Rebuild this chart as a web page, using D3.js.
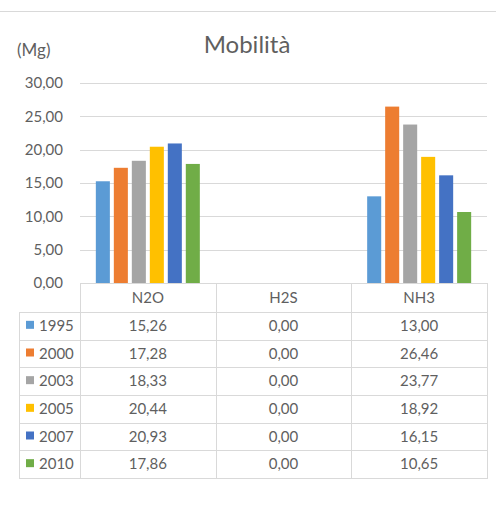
<!DOCTYPE html>
<html><head><meta charset="utf-8">
<script src="https://cdn.jsdelivr.net/npm/d3@7"></script>
<style>
html,body{margin:0;padding:0;background:#fff;}
svg{display:block;font-family:Lato,"Open Sans",sans-serif;}
</style></head>
<body>
<svg id="c" width="496" height="516"></svg>
<script>
const categories = ["N2O", "H2S", "NH3"];
const years = ["1995", "2000", "2003", "2005", "2007", "2010"];
const v1995 = [15.26, 0.00, 13.00];
const v2000 = [17.28, 0.00, 26.46];
const v2003 = [18.33, 0.00, 23.77];
const v2005 = [20.44, 0.00, 18.92];
const v2007 = [20.93, 0.00, 16.15];
const v2010 = [17.86, 0.00, 10.65];
const yTicks = [0, 5, 10, 15, 20, 25, 30];
const colors = ["#5B9BD5", "#ED7D31", "#A5A5A5", "#FFC000", "#4472C4", "#70AD47"];
const chartTitle = "Mobilità";
const unit = "(Mg)";

const series = [v1995, v2000, v2003, v2005, v2007, v2010];

const loc = d3.formatLocale({decimal: ",", thousands: ".", grouping: [3], currency: ["€", ""]});
const fmt = loc.format(".2f");

const svg = d3.select("#c");
const W = 496, H = 516;
const pL = 80, pR = 487, pT = 83, pB = 283;
const textCol = "#5f5f5f", gridCol = "#d9d9d9";

svg.append("rect").attr("width", W).attr("height", H).attr("fill", "#fff");
svg.append("line").attr("x1", 0).attr("x2", W).attr("y1", 11.5).attr("y2", 11.5)
  .attr("stroke", "#d9d9d9").attr("stroke-width", 1);

const y = d3.scaleLinear().domain([0, 30]).range([pB, pT]);
const x0 = d3.scaleBand().domain(categories).range([pL, pR]).padding(0);
const x1 = d3.scaleBand().domain(years).range([0, x0.bandwidth()])
  .paddingInner(0.22).paddingOuter(0.88);

// grid + y labels
const ya = svg.append("g").attr("transform", `translate(${pL},0)`)
  .call(d3.axisLeft(y).tickValues(yTicks).tickFormat(fmt)
    .tickSize(-(pR - pL)).tickPadding(17));
ya.select(".domain").remove();
ya.selectAll(".tick line").attr("stroke", gridCol).attr("stroke-width", 1)
  .attr("shape-rendering", "crispEdges");
ya.selectAll(".tick text").attr("fill", textCol).attr("font-size", 15)
  .attr("font-family", "Lato, 'Open Sans', sans-serif");

// bars
categories.forEach((c, ci) => {
  series.forEach((s, si) => {
    svg.append("rect")
      .attr("x", x0(c) + x1(years[si]))
      .attr("y", y(s[ci]))
      .attr("width", x1.bandwidth())
      .attr("height", y(0) - y(s[ci]))
      .attr("fill", colors[si]);
  });
});

// title and unit
svg.append("text").attr("x", 247).attr("y", 53).attr("text-anchor", "middle")
  .attr("font-size", 24).attr("fill", textCol).text(chartTitle);
svg.append("text").attr("x", 17).attr("y", 56)
  .attr("font-size", 17).attr("fill", textCol).text(unit);

// data table
const headTop = 283, headBot = 312, rowH = (478 - 312) / years.length;
const tLeft = 19;
const tBot = headBot + rowH * years.length;
const tg = svg.append("g").attr("shape-rendering", "crispEdges");
const vx = [pL, ...categories.map(c => x0(c) + x0.bandwidth())];
vx.forEach(xx => {
  tg.append("line").attr("x1", Math.round(xx) + 0.5).attr("x2", Math.round(xx) + 0.5)
    .attr("y1", headTop).attr("y2", tBot).attr("stroke", gridCol);
});
tg.append("line").attr("x1", tLeft + 0.5).attr("x2", tLeft + 0.5)
  .attr("y1", headBot).attr("y2", tBot).attr("stroke", gridCol);
for (let i = 0; i <= years.length; i++) {
  const yy = Math.round(headBot + rowH * i) + 0.5;
  tg.append("line").attr("x1", tLeft).attr("x2", pR + 0.5).attr("y1", yy).attr("y2", yy)
    .attr("stroke", gridCol);
}
categories.forEach(c => {
  svg.append("text").attr("x", x0(c) + x0.bandwidth() / 2).attr("y", (headTop + headBot) / 2 + 5)
    .attr("text-anchor", "middle").attr("font-size", 15).attr("fill", textCol).text(c);
});
years.forEach((yr, i) => {
  const cy = headBot + rowH * i + rowH / 2;
  svg.append("rect").attr("x", 26).attr("y", cy - 5).attr("width", 8).attr("height", 8)
    .attr("fill", colors[i]);
  svg.append("text").attr("x", 39).attr("y", cy + 5).attr("font-size", 15)
    .attr("fill", textCol).text(yr);
  categories.forEach((c, ci) => {
    svg.append("text").attr("x", x0(c) + x0.bandwidth() / 2).attr("y", cy + 5)
      .attr("text-anchor", "middle").attr("font-size", 15).attr("fill", textCol)
      .text(fmt(series[i][ci]));
  });
});
</script>
</body></html>
